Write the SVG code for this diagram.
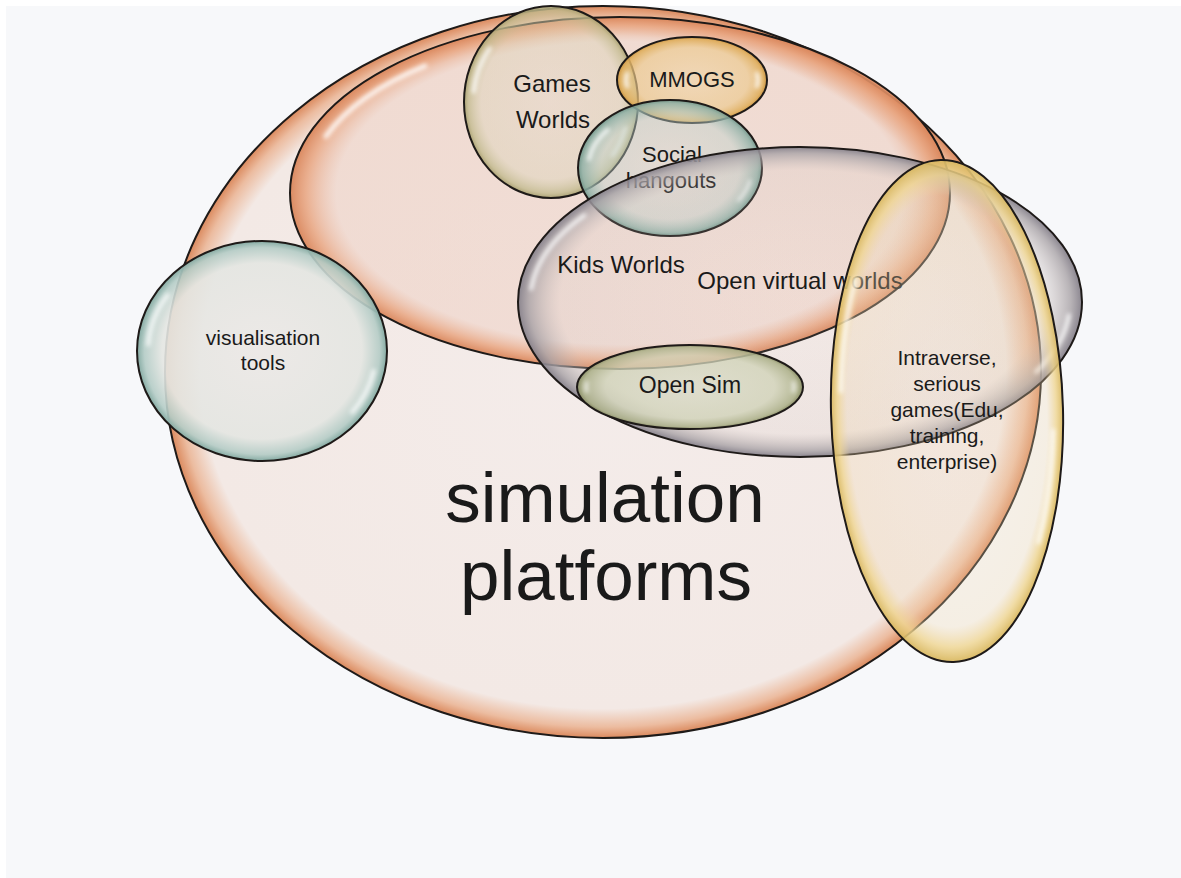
<svg xmlns="http://www.w3.org/2000/svg" width="1181" height="878" viewBox="0 0 1181 878">
<style>
.ol{stroke:#1e1a18;stroke-width:2}
.hl{fill:none;stroke:#ffffff;stroke-linecap:round;filter:url(#blur);opacity:.85}
.t{font-family:"Liberation Sans",Arial,sans-serif;fill:#1a1a1a;text-anchor:middle}
</style>
<defs>
<filter id="blur" x="-20%" y="-20%" width="140%" height="140%"><feGaussianBlur stdDeviation="2"/></filter>
<radialGradient id="gBig" cx="50%" cy="50%" r="50%">
<stop offset="0" stop-color="#f4ecea"/><stop offset="0.92" stop-color="#f3e9e5"/><stop offset="0.97" stop-color="#ecbca0"/><stop offset="1" stop-color="#db8a5e"/>
</radialGradient>
<radialGradient id="gOr" cx="50%" cy="50%" r="50%">
<stop offset="0" stop-color="#ecc6b6" stop-opacity="0.38"/><stop offset="0.86" stop-color="#ecc6b6" stop-opacity="0.4"/><stop offset="0.95" stop-color="#e8a27c" stop-opacity="0.8"/><stop offset="1" stop-color="#d9855a" stop-opacity="0.95"/>
</radialGradient>
<radialGradient id="gGm" cx="50%" cy="50%" r="50%">
<stop offset="0" stop-color="#dcd6bf" stop-opacity="0.3"/><stop offset="0.8" stop-color="#d8d2b4" stop-opacity="0.4"/><stop offset="0.95" stop-color="#c2ba8e" stop-opacity="0.8"/><stop offset="1" stop-color="#a8a070" stop-opacity="0.95"/>
</radialGradient>
<radialGradient id="gMm" cx="50%" cy="50%" r="50%">
<stop offset="0" stop-color="#f0d3a0" stop-opacity="0.55"/><stop offset="0.75" stop-color="#ecc98c" stop-opacity="0.65"/><stop offset="0.95" stop-color="#dfae5c" stop-opacity="0.9"/><stop offset="1" stop-color="#c99444" stop-opacity="1"/>
</radialGradient>
<radialGradient id="gSo" cx="50%" cy="50%" r="50%">
<stop offset="0" stop-color="#c8d6d0" stop-opacity="0.3"/><stop offset="0.75" stop-color="#bcd0ca" stop-opacity="0.45"/><stop offset="0.95" stop-color="#8fb0a6" stop-opacity="0.85"/><stop offset="1" stop-color="#6e9488" stop-opacity="0.95"/>
</radialGradient>
<radialGradient id="gGr" cx="50%" cy="50%" r="50%">
<stop offset="0" stop-color="#d8ccc8" stop-opacity="0.05"/><stop offset="0.85" stop-color="#cfc3c0" stop-opacity="0.18"/><stop offset="0.96" stop-color="#a8a2a6" stop-opacity="0.8"/><stop offset="1" stop-color="#85808a" stop-opacity="0.95"/>
</radialGradient>
<radialGradient id="gOs" cx="50%" cy="50%" r="50%">
<stop offset="0" stop-color="#d8dac4" stop-opacity="0.7"/><stop offset="0.75" stop-color="#cfd2b6" stop-opacity="0.75"/><stop offset="0.95" stop-color="#aeb28c" stop-opacity="0.9"/><stop offset="1" stop-color="#8c9068" stop-opacity="1"/>
</radialGradient>
<radialGradient id="gYe" cx="50%" cy="50%" r="50%">
<stop offset="0" stop-color="#f0dcc0" stop-opacity="0.2"/><stop offset="0.86" stop-color="#f0d8b0" stop-opacity="0.3"/><stop offset="0.94" stop-color="#efd590" stop-opacity="0.8"/><stop offset="1" stop-color="#d9b860" stop-opacity="0.95"/>
</radialGradient>
<radialGradient id="gVi" cx="50%" cy="50%" r="50%">
<stop offset="0" stop-color="#ece9e7" stop-opacity="0.92"/><stop offset="0.8" stop-color="#e4e6e2" stop-opacity="0.9"/><stop offset="0.94" stop-color="#b4ccc6" stop-opacity="0.9"/><stop offset="1" stop-color="#84aaa2" stop-opacity="1"/>
</radialGradient>
</defs>
<rect x="0" y="0" width="1181" height="878" fill="#ffffff"/>
<rect x="6" y="6" width="1175" height="872" fill="#f7f8fa"/>

<g id="node-simulation-platforms">
<ellipse cx="603" cy="372" rx="438" ry="366" fill="url(#gBig)" class="ol"/>
<text class="t" x="605" y="522" font-size="71">simulation</text>
<text class="t" x="606" y="600" font-size="71">platforms</text>
</g>

<g id="node-virtual-worlds-set">
<ellipse cx="620" cy="193" rx="330" ry="176" fill="url(#gOr)" class="ol"/>
<ellipse cx="620" cy="193" rx="314" ry="162" pathLength="100" class="hl" stroke-width="5" stroke-dasharray="8 92" stroke-dashoffset="-54"/>
</g>

<g id="node-games-worlds">
<ellipse cx="551" cy="102" rx="87" ry="96" fill="url(#gGm)" class="ol"/>
<ellipse cx="551" cy="102" rx="78" ry="87" pathLength="100" class="hl" stroke-width="4" stroke-dasharray="9 91" stroke-dashoffset="-52"/>
<ellipse cx="551" cy="102" rx="78" ry="87" pathLength="100" class="hl" stroke-width="3" stroke-dasharray="6 94" stroke-dashoffset="-5"/>
<text class="t" x="552" y="92" font-size="24">Games</text>
<text class="t" x="553" y="128" font-size="24">Worlds</text>
</g>

<g id="node-mmogs">
<ellipse cx="692" cy="80" rx="75" ry="43" fill="url(#gMm)" class="ol"/>
<ellipse cx="692" cy="80" rx="66" ry="35" pathLength="100" class="hl" stroke-width="4" stroke-dasharray="4 96" stroke-dashoffset="-48"/>
<ellipse cx="692" cy="80" rx="66" ry="35" pathLength="100" class="hl" stroke-width="4" stroke-dasharray="4 96" stroke-dashoffset="-98"/>
<text class="t" x="692" y="87" font-size="22">MMOGS</text>
</g>

<g id="node-social-hangouts">
<ellipse cx="670" cy="168" rx="92" ry="68" fill="url(#gSo)" class="ol"/>
<ellipse cx="670" cy="168" rx="82" ry="59" pathLength="100" class="hl" stroke-width="4" stroke-dasharray="8 92" stroke-dashoffset="-52"/>
<ellipse cx="670" cy="168" rx="82" ry="59" pathLength="100" class="hl" stroke-width="3" stroke-dasharray="5 95" stroke-dashoffset="-3"/>
<text class="t" x="672" y="162" font-size="22">Social</text>
<text class="t" x="671" y="188" font-size="22">hangouts</text>
</g>

<g id="node-open-virtual-worlds">
<ellipse cx="800" cy="302" rx="282" ry="155" fill="url(#gGr)" class="ol"/>
<ellipse cx="800" cy="302" rx="270" ry="144" pathLength="100" class="hl" stroke-width="4" stroke-dasharray="7 93" stroke-dashoffset="-51"/>
<ellipse cx="800" cy="302" rx="270" ry="144" pathLength="100" class="hl" stroke-width="4" stroke-dasharray="5 95" stroke-dashoffset="-1"/>
<text class="t" x="621" y="273" font-size="24">Kids Worlds</text>
<text class="t" x="800" y="289" font-size="24">Open virtual worlds</text>
</g>

<g id="node-open-sim">
<ellipse cx="690" cy="387" rx="113" ry="42" fill="url(#gOs)" class="ol"/>
<ellipse cx="690" cy="387" rx="104" ry="35" pathLength="100" class="hl" stroke-width="3" stroke-dasharray="2 98" stroke-dashoffset="-49"/>
<ellipse cx="690" cy="387" rx="104" ry="35" pathLength="100" class="hl" stroke-width="3" stroke-dasharray="2 98" stroke-dashoffset="-99"/>
<text class="t" x="690" y="393" font-size="23">Open Sim</text>
</g>

<g id="node-intraverse">
<ellipse cx="947" cy="411" rx="116" ry="251" fill="url(#gYe)" class="ol" transform="rotate(-1.5 947 411)"/>
<ellipse cx="947" cy="411" rx="106" ry="240" pathLength="100" class="hl" stroke-width="4" stroke-dasharray="10 90" stroke-dashoffset="-52" transform="rotate(-1.5 947 411)"/>
<ellipse cx="947" cy="411" rx="106" ry="240" pathLength="100" class="hl" stroke-width="4" stroke-dasharray="10 90" stroke-dashoffset="-2" transform="rotate(-1.5 947 411)"/>
<text class="t" x="947" y="365" font-size="21">Intraverse,</text>
<text class="t" x="947" y="391" font-size="21">serious</text>
<text class="t" x="947" y="417" font-size="21">games(Edu,</text>
<text class="t" x="947" y="443" font-size="21">training,</text>
<text class="t" x="947" y="469" font-size="21">enterprise)</text>
</g>

<g id="node-visualisation-tools">
<ellipse cx="262" cy="351" rx="125" ry="110" fill="url(#gVi)" class="ol"/>
<ellipse cx="262" cy="351" rx="114" ry="100" pathLength="100" class="hl" stroke-width="4" stroke-dasharray="8 92" stroke-dashoffset="-51"/>
<ellipse cx="262" cy="351" rx="114" ry="100" pathLength="100" class="hl" stroke-width="4" stroke-dasharray="7 93" stroke-dashoffset="-3"/>
<text class="t" x="263" y="345" font-size="21">visualisation</text>
<text class="t" x="263" y="370" font-size="21">tools</text>
</g>

<g id="connectors"></g>
</svg>
